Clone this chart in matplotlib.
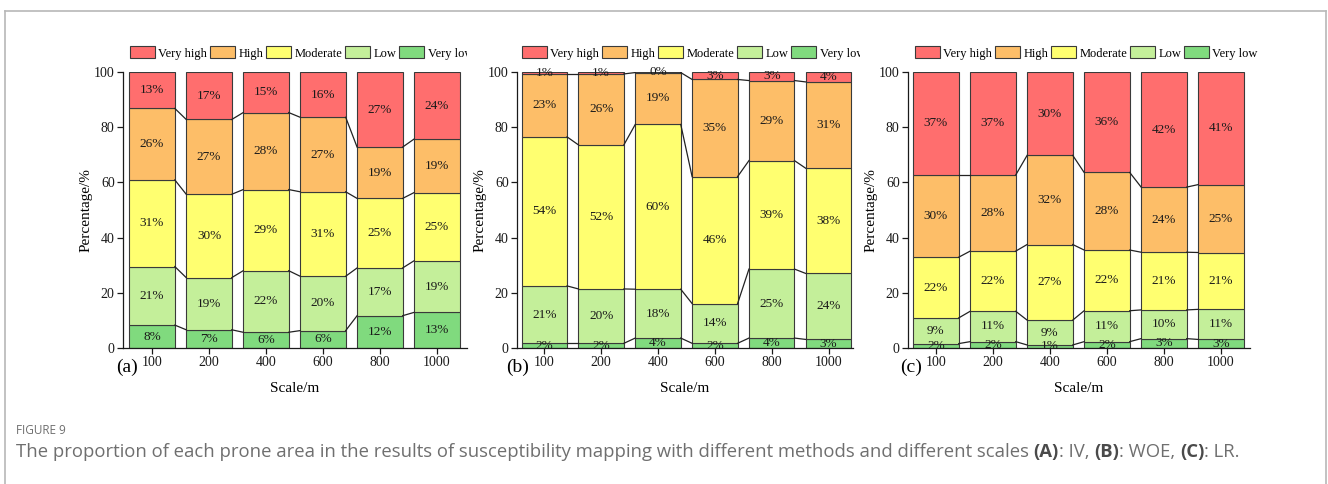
import matplotlib
matplotlib.use("Agg")
import matplotlib.pyplot as plt
from matplotlib.lines import Line2D
from matplotlib.patches import Rectangle

# Scales and susceptibility classes
scales = ["100", "200", "400", "600", "800", "1000"]
classes = ["Very high", "High", "Moderate", "Low", "Very low"]
class_colors = ["#FF6E6E", "#FDBE68", "#FFFF70", "#C4EF9A", "#80DA7E"]

# Share (%) of each class per scale -- IV method
iv_very_low = [8.3, 6.6, 5.7, 6.3, 11.7, 12.9]
iv_low = [21.2, 18.9, 22.3, 19.7, 17.3, 18.7]
iv_moderate = [31.4, 30.2, 29.4, 30.6, 25.2, 24.7]
iv_high = [25.9, 27.1, 27.9, 27.0, 18.6, 19.4]
iv_very_high = [13.2, 17.2, 14.7, 16.4, 27.2, 24.3]

# WOE method
woe_very_low = [1.7, 1.7, 3.6, 1.7, 3.6, 3.1]
woe_low = [20.8, 19.7, 17.7, 14.4, 25.0, 23.9]
woe_moderate = [54.0, 52.2, 59.7, 46.0, 39.3, 38.1]
woe_high = [22.8, 25.7, 18.8, 35.2, 29.0, 31.3]
woe_very_high = [0.7, 0.7, 0.2, 2.7, 3.1, 3.6]

# LR method
lr_very_low = [1.6, 2.3, 1.1, 2.3, 3.4, 3.1]
lr_low = [9.3, 11.0, 9.0, 11.2, 10.4, 10.9]
lr_moderate = [22.0, 21.8, 27.4, 22.0, 20.9, 20.6]
lr_high = [29.8, 27.6, 32.3, 28.1, 23.6, 24.6]
lr_very_high = [37.3, 37.3, 30.2, 36.4, 41.7, 40.8]

panel_tags = ["(a)", "(b)", "(c)"]

W, H = 1328, 484
plt.rcParams["font.family"] = ["Liberation Serif", "DejaVu Serif"]
fig = plt.figure(figsize=(W / 100, H / 100), dpi=100)


def px_rect(x0, x1, ytop, ybot):
    return [x0 / W, 1 - ybot / H, (x1 - x0) / W, (ybot - ytop) / H]


panels = [
    dict(rect=px_rect(123, 467, 72, 348), xlim=(-0.51, 5.53),
         stacks=[iv_very_low, iv_low, iv_moderate, iv_high, iv_very_high],
         tag_xy=(127, 367), legend_x=130, cut=(467, 515)),
    dict(rect=px_rect(517, 853, 72, 348), xlim=(-0.48, 5.43),
         stacks=[woe_very_low, woe_low, woe_moderate, woe_high, woe_very_high],
         tag_xy=(518, 367), legend_x=522, cut=(860, 908)),
    dict(rect=px_rect(908, 1250, 72, 348), xlim=(-0.49, 5.51),
         stacks=[lr_very_low, lr_low, lr_moderate, lr_high, lr_very_high],
         tag_xy=(911, 367), legend_x=915, cut=None),
]

bar_w = 0.8
bottom_up_colors = class_colors[::-1]
xs = list(range(len(scales)))

for p, tag in zip(panels, panel_tags):
    ax = fig.add_axes(p["rect"])
    bottoms = [0.0] * len(scales)
    tops_per_layer = []
    handles = []
    for vals, col in zip(p["stacks"], bottom_up_colors):
        bars = ax.bar(xs, vals, bar_w, bottom=bottoms, color=col,
                      edgecolor="#3a3a3a", linewidth=0.8, zorder=2)
        handles.append(bars)
        for x, b, v in zip(xs, bottoms, vals):
            ax.text(x, b + v / 2, f"{v:.0f}%", ha="center", va="center",
                    fontsize=9.5, color="#1a1a1a", zorder=4)
        bottoms = [b + v for b, v in zip(bottoms, vals)]
        tops_per_layer.append(list(bottoms))

    # Connecting lines between class boundaries of neighbouring bars
    for tops in tops_per_layer[:-1]:
        for i in range(len(xs) - 1):
            ax.plot([xs[i] + bar_w / 2, xs[i + 1] - bar_w / 2],
                    [tops[i], tops[i + 1]], color="#222222", lw=0.9, zorder=3)

    ax.set_xlim(*p["xlim"])
    ax.set_ylim(0, 100)
    ax.set_xticks(xs)
    ax.set_xticklabels(scales)
    ax.set_yticks([0, 20, 40, 60, 80, 100])
    ax.tick_params(direction="out", length=4, width=0.9, labelsize=10,
                   pad=2, colors="#1a1a1a")
    for s in ("top", "right"):
        ax.spines[s].set_visible(False)
    for s in ("left", "bottom"):
        ax.spines[s].set_linewidth(0.9)
        ax.spines[s].set_color("#1a1a1a")
    ax.set_xlabel("Scale/m", fontsize=11, labelpad=9)
    ax.set_ylabel("Percentage/%", fontsize=11, labelpad=1)

    fig.text(p["tag_xy"][0] / W, 1 - p["tag_xy"][1] / H, tag,
             fontsize=14, ha="center", va="center")

    ax.legend(handles[::-1], classes, ncol=5, frameon=False,
              loc="center left",
              bbox_to_anchor=(p["legend_x"] / W, 1 - 53 / H),
              bbox_transform=fig.transFigure, fontsize=9,
              handlelength=2.0, handleheight=1.1, handletextpad=0.25,
              columnspacing=0.25, borderpad=0, borderaxespad=0)
    # the legend runs past the panel's right edge and is cut off there
    if p["cut"] is not None:
        x0, x1 = p["cut"]
        fig.add_artist(Rectangle((x0 / W, 1 - 64 / H), (x1 - x0) / W, 22 / H,
                                 transform=fig.transFigure, facecolor="white",
                                 edgecolor="none", zorder=5))

# Outer frame of the figure panel
frame_kw = dict(color="#b8b8b8", lw=1.2, transform=fig.transFigure)
fig.add_artist(Line2D([4.5 / W, 1326 / W], [1 - 11 / H, 1 - 11 / H], **frame_kw))
fig.add_artist(Line2D([4.5 / W, 4.5 / W], [0, 1 - 11 / H], **frame_kw))
fig.add_artist(Line2D([1326 / W, 1326 / W], [0, 1 - 11 / H], **frame_kw))

# Caption
cap_font = ["Open Sans", "DejaVu Sans"]
fig.text(16 / W, 1 - 431 / H, "FIGURE 9", family=cap_font, fontsize=8.5,
         color="#6f6f6f", va="center", ha="left")

pieces = [
    ("The proportion of each prone area in the results of susceptibility "
     "mapping with different methods and different scales ", False),
    ("(A)", True), (": IV, ", False), ("(B)", True), (": WOE, ", False),
    ("(C)", True), (": LR.", False),
]
fig.canvas.draw()
renderer = fig.canvas.get_renderer()
x_px = 16.0
for text, bold in pieces:
    t = fig.text(x_px / W, 1 - 452 / H, text, family=cap_font, fontsize=13.3,
                 color="#4a4a4a" if bold else "#6f6f6f",
                 fontweight="bold" if bold else "normal",
                 va="center", ha="left")
    bb = t.get_window_extent(renderer=renderer)
    x_px = bb.x1

fig.savefig("out.png", dpi=100)
